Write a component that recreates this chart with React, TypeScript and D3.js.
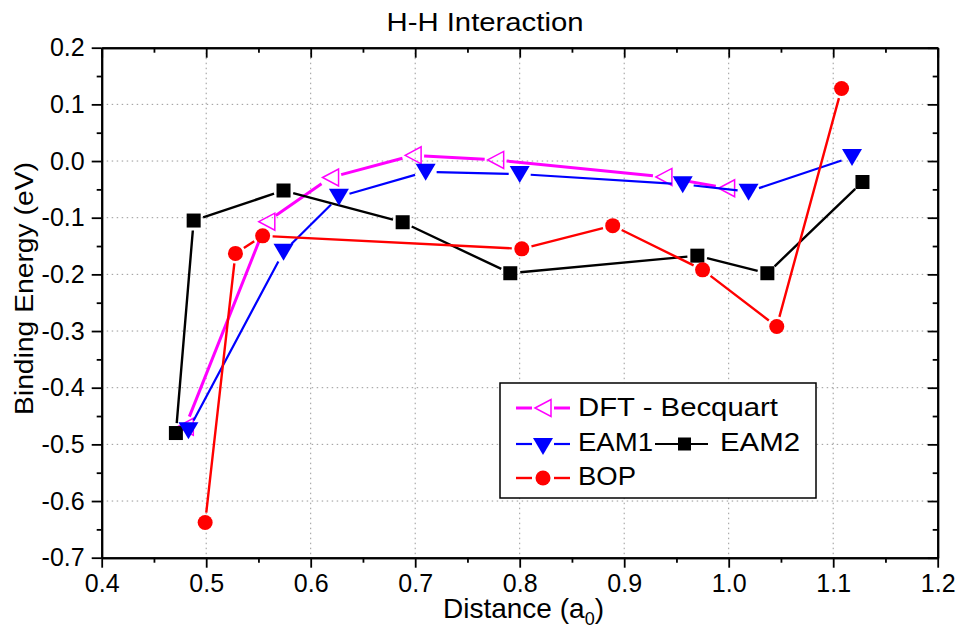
import { useEffect, useRef } from "react";
import * as d3 from "d3";

// H-H interaction: binding energy (eV) vs distance (a0)
const dftX = [0.48, 0.558, 0.619, 0.698, 0.777, 0.938, 0.998];
const dftY = [-0.469, -0.107, -0.029, 0.01, 0.002, -0.028, -0.048];
const eam1X = [0.483, 0.574, 0.627, 0.71, 0.8, 0.956, 1.019, 1.118];
const eam1Y = [-0.475, -0.16, -0.063, -0.019, -0.023, -0.041, -0.054, 0.007];
const eam2X = [0.471, 0.488, 0.574, 0.688, 0.791, 0.97, 1.037, 1.128];
const eam2Y = [-0.48, -0.105, -0.052, -0.108, -0.198, -0.167, -0.198, -0.037];
const bopX = [0.499, 0.528, 0.554, 0.802, 0.889, 0.975, 1.046, 1.108];
const bopY = [-0.638, -0.163, -0.132, -0.155, -0.114, -0.192, -0.292, 0.128];

const xTicks = [0.4, 0.5, 0.6, 0.7, 0.8, 0.9, 1.0, 1.1, 1.2];
const xLabels = ["0.4", "0.5", "0.6", "0.7", "0.8", "0.9", "1.0", "1.1", "1.2"];
const yTicks = [0.2, 0.1, 0.0, -0.1, -0.2, -0.3, -0.4, -0.5, -0.6, -0.7];
const yLabels = ["0.2", "0.1", "0.0", "-0.1", "-0.2", "-0.3", "-0.4", "-0.5", "-0.6", "-0.7"];

const FONT = "'Liberation Sans', Arial, sans-serif";
const width = 965;
const height = 630;
const left = 101.7;
const right = 937.7;
const top = 47.7;
const bottom = 557.7;

const x = d3.scaleLinear([0.4, 1.2], [left, right]);
const y = d3.scaleLinear([-0.7, 0.2], [bottom, top]);

const xMinor = d3.range(0.45, 1.2, 0.1);
const yMinor = d3.range(-0.65, 0.2, 0.1);

// line segments stop short of the markers, like the original plot
function gapped(xs: number[], ys: number[], gap: number) {
  const p = d3.path();
  for (let i = 0; i < xs.length - 1; i++) {
    const x0 = x(xs[i]), y0 = y(ys[i]);
    const x1 = x(xs[i + 1]), y1 = y(ys[i + 1]);
    const len = Math.hypot(x1 - x0, y1 - y0);
    if (len <= 2 * gap) continue;
    const ux = (x1 - x0) / len, uy = (y1 - y0) / len;
    p.moveTo(x0 + ux * gap, y0 + uy * gap);
    p.lineTo(x1 - ux * gap, y1 - uy * gap);
  }
  return p.toString();
}

const triLeft = "M-8,0L8,-8.5L8,8.5Z";
const triDown = "M-10,-8L10,-8L0,9Z";

function Marker({ kind, cx, cy }: { kind: string; cx: number; cy: number }) {
  if (kind === "dft")
    return <path d={triLeft} transform={`translate(${cx},${cy})`} fill="none" stroke="#ff00ff" strokeWidth={1.5} />;
  if (kind === "eam1")
    return <path d={triDown} transform={`translate(${cx},${cy})`} fill="#0000ff" />;
  if (kind === "eam2")
    return <rect x={cx - 7} y={cy - 7} width={14} height={14} fill="#000" />;
  return <circle cx={cx} cy={cy} r={7.5} fill="#ff0000" />;
}

function LegendLine({ cy, color, w }: { cy: number; color: string; w: number }) {
  return (
    <g stroke={color} strokeWidth={w}>
      <line x1={516} x2={532} y1={cy} y2={cy} />
      <line x1={554} x2={570} y1={cy} y2={cy} />
    </g>
  );
}

export default function App() {
  const gLeft = useRef<SVGGElement>(null);
  const gLeftMinor = useRef<SVGGElement>(null);
  const gBottom = useRef<SVGGElement>(null);
  const gBottomMinor = useRef<SVGGElement>(null);
  const gRight = useRef<SVGGElement>(null);
  const gTop = useRef<SVGGElement>(null);

  useEffect(() => {
    const style = (g: d3.Selection<SVGGElement, unknown, null, undefined>) => {
      g.select(".domain").attr("stroke", "#000").attr("stroke-width", 2);
      g.selectAll(".tick line").attr("stroke", "#000").attr("stroke-width", 1.8);
      g.selectAll(".tick text")
        .attr("fill", "#000")
        .style("font-family", FONT)
        .style("font-size", "25px");
    };
    d3.select(gLeft.current!)
      .call(
        d3.axisLeft(y).tickValues(yTicks).tickFormat((_, i) => yLabels[i])
          .tickSize(10).tickPadding(7).tickSizeOuter(0)
      )
      .call(style);
    d3.select(gLeftMinor.current!)
      .call(d3.axisLeft(y).tickValues(yMinor).tickFormat(() => "").tickSize(5).tickSizeOuter(0))
      .call(style);
    d3.select(gBottom.current!)
      .call(
        d3.axisBottom(x).tickValues(xTicks).tickFormat((_, i) => xLabels[i])
          .tickSize(10).tickPadding(7).tickSizeOuter(0)
      )
      .call(style);
    d3.select(gBottomMinor.current!)
      .call(d3.axisBottom(x).tickValues(xMinor).tickFormat(() => "").tickSize(5).tickSizeOuter(0))
      .call(style);
    const rightAxis = d3.select(gRight.current!);
    rightAxis.append("g").call(d3.axisLeft(y).tickValues(yTicks).tickFormat(() => "").tickSize(10).tickSizeOuter(0)).call(style);
    rightAxis.append("g").call(d3.axisLeft(y).tickValues(yMinor).tickFormat(() => "").tickSize(5).tickSizeOuter(0)).call(style);
    const topAxis = d3.select(gTop.current!);
    topAxis.append("g").call(d3.axisBottom(x).tickValues(xTicks).tickFormat(() => "").tickSize(10).tickSizeOuter(0)).call(style);
    topAxis.append("g").call(d3.axisBottom(x).tickValues(xMinor).tickFormat(() => "").tickSize(5).tickSizeOuter(0)).call(style);
    return () => {
      rightAxis.selectAll("*").remove();
      topAxis.selectAll("*").remove();
    };
  }, []);

  const series = [
    { kind: "dft", xs: dftX, ys: dftY, color: "#ff00ff", w: 3, gap: 11 },
    { kind: "eam2", xs: eam2X, ys: eam2Y, color: "#000000", w: 2.4, gap: 10 },
    { kind: "eam1", xs: eam1X, ys: eam1Y, color: "#0000ff", w: 2.2, gap: 11 },
    { kind: "bop", xs: bopX, ys: bopY, color: "#ff0000", w: 2.4, gap: 10 },
  ];

  return (
    <svg width={width} height={height} style={{ position: "absolute", left: 0, top: 0, background: "#fff" }}>
      <rect width={width} height={height} fill="#fff" />
      <g stroke="#999" strokeWidth={1} strokeDasharray="1.5,3.5">
        {xTicks.slice(1, -1).map((t) => (
          <line key={`gx${t}`} x1={x(t)} x2={x(t)} y1={top} y2={bottom} />
        ))}
        {yTicks.slice(1, -1).map((t) => (
          <line key={`gy${t}`} x1={left} x2={right} y1={y(t)} y2={y(t)} />
        ))}
      </g>

      {series.map((s) => (
        <g key={s.kind}>
          <path d={gapped(s.xs, s.ys, s.gap)} fill="none" stroke={s.color} strokeWidth={s.w} />
          {s.xs.map((v, i) => (
            <Marker key={i} kind={s.kind} cx={x(v)} cy={y(s.ys[i])} />
          ))}
        </g>
      ))}

      <g ref={gLeft} transform={`translate(${left},0)`} />
      <g ref={gLeftMinor} transform={`translate(${left},0)`} />
      <g ref={gBottom} transform={`translate(0,${bottom})`} />
      <g ref={gBottomMinor} transform={`translate(0,${bottom})`} />
      <g ref={gRight} transform={`translate(${right},0)`} />
      <g ref={gTop} transform={`translate(0,${top})`} />

      <text x={485} y={31} textAnchor="middle" fontFamily={FONT} fontSize={26} textLength={197} lengthAdjust="spacingAndGlyphs">
        H-H Interaction
      </text>
      <text x={443} y={618} fontFamily={FONT} fontSize={28}>
        Distance (a<tspan fontSize={18} dy={7}>0</tspan><tspan dy={-7}>)</tspan>
      </text>
      <text
        transform="translate(33,288.5) rotate(-90)"
        textAnchor="middle"
        fontFamily={FONT}
        fontSize={26}
        textLength={253}
        lengthAdjust="spacingAndGlyphs"
      >
        Binding Energy (eV)
      </text>

      <g>
        <rect x={500} y={383} width={316} height={115} fill="#fff" stroke="#000" strokeWidth={1.5} />
        <LegendLine cy={408} color="#ff00ff" w={3} />
        <Marker kind="dft" cx={543} cy={408} />
        <text x={578} y={416} fontFamily={FONT} fontSize={26} textLength={200} lengthAdjust="spacingAndGlyphs">DFT - Becquart</text>

        <LegendLine cy={444} color="#0000ff" w={2.2} />
        <Marker kind="eam1" cx={543} cy={446} />
        <text x={578} y={451} fontFamily={FONT} fontSize={26} textLength={75} lengthAdjust="spacingAndGlyphs">EAM1</text>
        <line x1={655} x2={708} y1={444} y2={444} stroke="#000" strokeWidth={2.2} />
        <rect x={678} y={437.5} width={13} height={13} fill="#000" />
        <text x={720} y={451} fontFamily={FONT} fontSize={26} textLength={80} lengthAdjust="spacingAndGlyphs">EAM2</text>

        <LegendLine cy={478} color="#ff0000" w={2.4} />
        <Marker kind="bop" cx={543} cy={478} />
        <text x={578} y={485} fontFamily={FONT} fontSize={26} textLength={58} lengthAdjust="spacingAndGlyphs">BOP</text>
      </g>
    </svg>
  );
}
